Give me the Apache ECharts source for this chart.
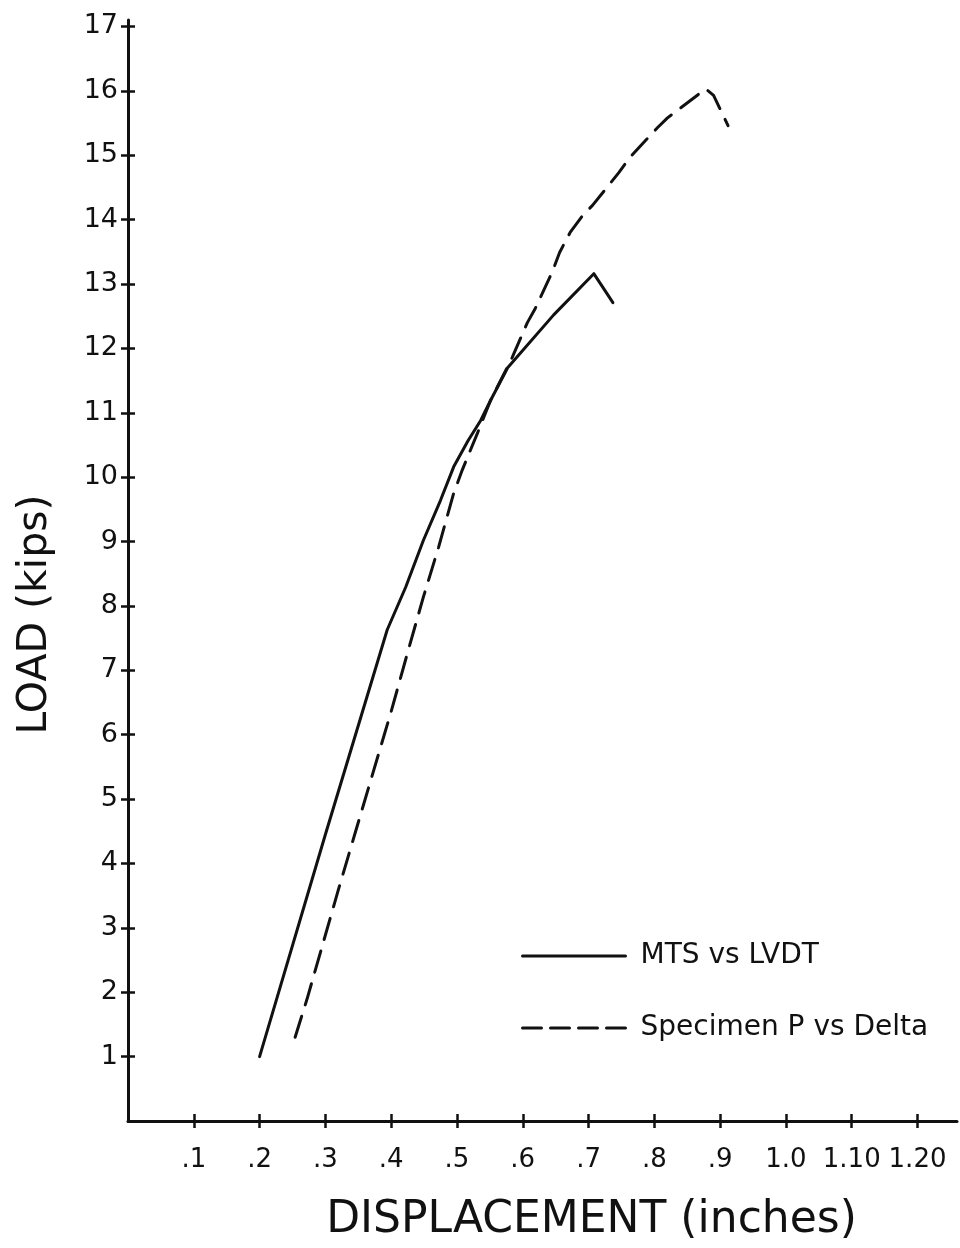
<!DOCTYPE html>
<html>
<head>
<meta charset="utf-8">
<script src="https://cdn.jsdelivr.net/npm/echarts@6/dist/echarts.min.js"></script>
<style>
  html, body { margin: 0; padding: 0; background: #fff; }
  #chart { width: 960px; height: 1248px; }
</style>
</head>
<body>
<div id="chart"></div>
<script>
// data: [displacement (in), load (kips)]
var mtsVsLvdt = [
    [0.20, 1.0], [0.30, 4.45], [0.394, 7.63], [0.422, 8.29], [0.449, 9.02],
    [0.475, 9.64], [0.495, 10.16], [0.517, 10.57], [0.536, 10.88], [0.551, 11.19],
    [0.577, 11.7], [0.647, 12.52], [0.708, 13.16], [0.737, 12.71]
];
var specimenPvsDelta = [
    [0.254, 1.3], [0.272, 1.89], [0.32, 3.6], [0.346, 4.5], [0.373, 5.43],
    [0.40, 6.36], [0.424, 7.24], [0.449, 8.14], [0.472, 8.91], [0.495, 9.75],
    [0.508, 10.11], [0.531, 10.68], [0.551, 11.19], [0.584, 11.86], [0.607, 12.4],
    [0.619, 12.62], [0.645, 13.19], [0.656, 13.49], [0.672, 13.8], [0.693, 14.09],
    [0.706, 14.22], [0.746, 14.73], [0.764, 14.98], [0.805, 15.43], [0.82, 15.58],
    [0.878, 16.03], [0.89, 15.93], [0.912, 15.46]
];
var seriesNames = ['MTS vs LVDT', 'Specimen P vs Delta'];
var xTickValues = [0.1, 0.2, 0.3, 0.4, 0.5, 0.6, 0.7, 0.8, 0.9, 1.0, 1.1, 1.2];
var xTickLabels = ['.1', '.2', '.3', '.4', '.5', '.6', '.7', '.8', '.9', '1.0', '1.10', '1.20'];
var yTickValues = [1, 2, 3, 4, 5, 6, 7, 8, 9, 10, 11, 12, 13, 14, 15, 16, 17];

var ink = '#111';
var font = 'DejaVu Sans';

function xLabel(v) {
    for (var i = 0; i < xTickValues.length; i++) {
        if (Math.abs(xTickValues[i] - v) < 1e-6) return xTickLabels[i];
    }
    return '';
}

var myChart = echarts.init(document.getElementById('chart'), null, { renderer: 'canvas' });
var option = {
    backgroundColor: '#fff',
    animation: false,
    textStyle: { fontFamily: font, color: ink },
    grid: { left: 128, top: 20, width: 829, height: 1102 },
    legend: {
        orient: 'vertical',
        left: 516,
        top: 937,
        itemWidth: 103,
        itemHeight: 30,
        itemGap: 44,
        itemStyle: { opacity: 0 },
        textStyle: { fontFamily: font, fontSize: 28, color: ink, padding: [0, 0, 0, 10] },
        data: [
            { name: seriesNames[0], lineStyle: { width: 3, type: 'solid' } },
            { name: seriesNames[1], lineStyle: { width: 3, type: [19, 9] } }
        ]
    },
    xAxis: [
        {
            type: 'value', min: 0, max: 1.26,
            name: 'DISPLACEMENT (inches)',
            nameLocation: 'middle',
            nameGap: 78,
            nameTextStyle: { fontFamily: font, fontSize: 44, color: ink, padding: [0, 0, 0, 98] },
            axisLine: { lineStyle: { color: ink, width: 3 } },
            axisTick: { show: true, length: 7, customValues: xTickValues, lineStyle: { color: ink, width: 2.5 } },
            axisLabel: { customValues: xTickValues, formatter: xLabel, fontSize: 26, color: ink, margin: 26, fontFamily: font },
            splitLine: { show: false }
        },
        {
            type: 'value', min: 0, max: 1.26, position: 'bottom',
            axisLine: { show: false },
            axisTick: { show: true, inside: true, length: 7, customValues: xTickValues, lineStyle: { color: ink, width: 2.5 } },
            axisLabel: { show: false },
            splitLine: { show: false }
        }
    ],
    yAxis: [
        {
            type: 'value', min: 0, max: 17.1,
            name: 'LOAD (kips)',
            nameLocation: 'middle',
            nameGap: 72,
            nameRotate: 90,
            nameTextStyle: { fontFamily: font, fontSize: 41, color: ink, padding: [0, 88, 0, 0] },
            axisLine: { show: true, lineStyle: { color: ink, width: 3 } },
            axisTick: { show: true, length: 7, customValues: yTickValues, lineStyle: { color: ink, width: 2.5 } },
            axisLabel: { customValues: yTickValues, fontSize: 27, color: ink, margin: 10, fontFamily: font },
            splitLine: { show: false }
        },
        {
            type: 'value', min: 0, max: 17.1, position: 'left',
            axisLine: { show: false },
            axisTick: { show: true, inside: true, length: 7, customValues: yTickValues, lineStyle: { color: ink, width: 2.5 } },
            axisLabel: { show: false },
            splitLine: { show: false }
        }
    ],
    series: [
        {
            name: seriesNames[0],
            type: 'line',
            symbol: 'none',
            lineStyle: { color: ink, width: 3, join: 'round', cap: 'round' },
            itemStyle: { color: ink },
            data: mtsVsLvdt
        },
        {
            name: seriesNames[1],
            type: 'line',
            symbol: 'none',
            lineStyle: { color: ink, width: 3, type: [22, 12], join: 'round', cap: 'round' },
            itemStyle: { color: ink },
            data: specimenPvsDelta
        }
    ]
};
myChart.setOption(option);
</script>
</body>
</html>
